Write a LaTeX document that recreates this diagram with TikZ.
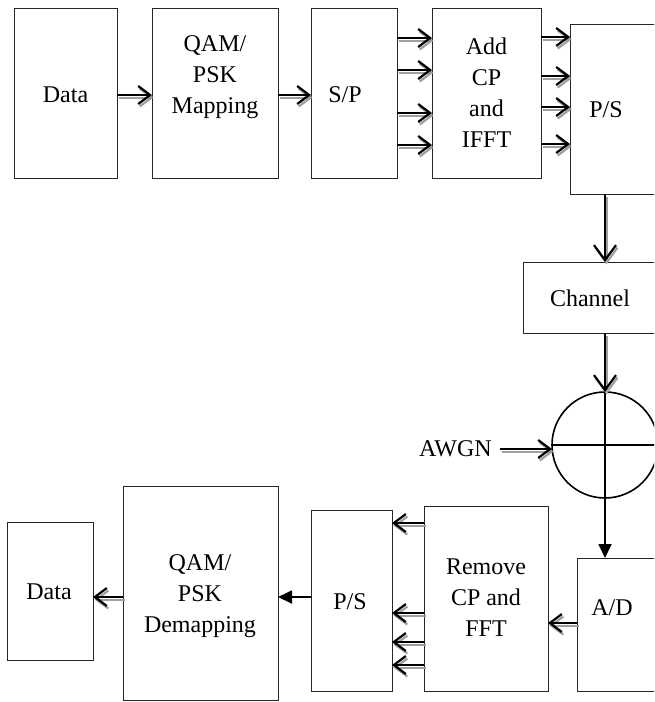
\documentclass[tikz,border=0pt]{standalone}
\usepackage{fontspec}
\setmainfont{Liberation Serif}
\usetikzlibrary{arrows.meta,calc}
\tikzset{
 blk/.style={draw=black!85, line width=0.8pt, inner sep=0pt, outer sep=0pt},
 txt/.style={align=center, font=\fontsize{24}{31}\selectfont, inner sep=0pt},
 tipsmall/.style={-{Straight Barb[length=12pt,width=18pt,line width=2.2pt]}},
 tipbig/.style={-{Straight Barb[length=15pt,width=22pt,line width=2.2pt]}},
 sarrow/.style={draw=black, line width=2pt},
 sshadow/.style={draw=gray!75, line width=2pt},
 farrow/.style={line width=1.8pt, -{Triangle[length=14pt,width=13pt]}},
}
\newcommand{\sarr}[3][tipsmall]{\draw[sshadow,#1] ($(#2)+(1.5pt,-2.5pt)$) -- ($(#3)+(1.5pt,-2.5pt)$); \draw[sarrow,#1] (#2) -- (#3);}
\begin{document}
\begin{tikzpicture}[x=1pt,y=-1pt]
\useasboundingbox (0,0) rectangle (654,702);
\clip (0,0) rectangle (654,702);
% top row
\node[blk, minimum width=103pt, minimum height=170pt] (data1) at (65.5,93) {};
\node[txt] (data1t) at (65.5,95) {Data};
\node[blk, minimum width=126pt, minimum height=170pt] (qam1) at (215,93) {};
\node[txt] (qam1t) at (215,77) {QAM/\\PSK\\Mapping};
\node[blk, minimum width=86pt, minimum height=170pt] (sp) at (354,93) {};
\node[txt] (spt) at (345,95) {S/P};
\node[blk, minimum width=109pt, minimum height=170pt] (add) at (486.5,93) {};
\node[txt] (addt) at (486.5,92.5) {Add\\CP\\and\\IFFT};
\node[blk, minimum width=90pt, minimum height=170pt] (ps1) at (615,109) {};
\node[txt] (ps1t) at (606,110) {P/S};
% channel and adder
\node[blk, minimum width=137pt, minimum height=71pt] (ch) at (591.5,297.5) {};
\node[txt] (cht) at (590,298) {Channel};
\node[circle, draw, line width=1.6pt, minimum size=106pt, inner sep=0pt, outer sep=0pt] (circ) at (605,445) {};
\draw[line width=1.6pt] (circ.north) -- (circ.south) (circ.west) -- (circ.east);
\node[txt, anchor=east] (awgn) at (492,449) {AWGN};
\coordinate (awgnend) at (500,449);
% bottom row
\node[blk, minimum width=83pt, minimum height=133pt] (ad) at (618.5,624.5) {};
\node[txt] (adt) at (612,608) {A/D};
\node[blk, minimum width=124pt, minimum height=185pt] (rm) at (486,598.5) {};
\node[txt] (rmt) at (486,598) {Remove\\CP and\\FFT};
\node[blk, minimum width=81pt, minimum height=181pt] (ps2) at (351.5,600.5) {};
\node[txt] (ps2t) at (350,602) {P/S};
\node[blk, minimum width=155pt, minimum height=214pt] (dm) at (200.5,593) {};
\node[txt] (dmt) at (200,596) {QAM/\\PSK\\Demapping};
\node[blk, minimum width=86pt, minimum height=138pt] (data2) at (50,591) {};
\node[txt] (data2t) at (49,592) {Data};
% top arrows
\sarr{data1.east |- 0,95}{qam1.west |- 0,95}
\sarr{qam1.east |- 0,95}{sp.west |- 0,95}
\foreach \y in {38,70,113,145} {\sarr{sp.east |- 0,\y}{add.west |- 0,\y}}
\foreach \y in {37,76,107,144} {\sarr{add.east |- 0,\y}{ps1.west |- 0,\y}}
% vertical
\sarr[tipbig]{circ.north |- ps1.south}{circ.north |- ch.north}
\sarr[tipbig]{circ.north |- ch.south}{circ.north}
\sarr{awgnend}{circ.west |- awgnend}
\draw[farrow] (circ.south) -- (circ.south |- ad.north);
% bottom arrows
\sarr{ad.west |- 0,623}{rm.east |- 0,623}
\foreach \y in {523,613,642,665} {\sarr{rm.west |- 0,\y}{ps2.east |- 0,\y}}
\draw[farrow] (ps2.west |- 0,597) -- (dm.east |- 0,597);
\sarr{dm.west |- 0,597}{data2.east |- 0,597}
\end{tikzpicture}
\end{document}
